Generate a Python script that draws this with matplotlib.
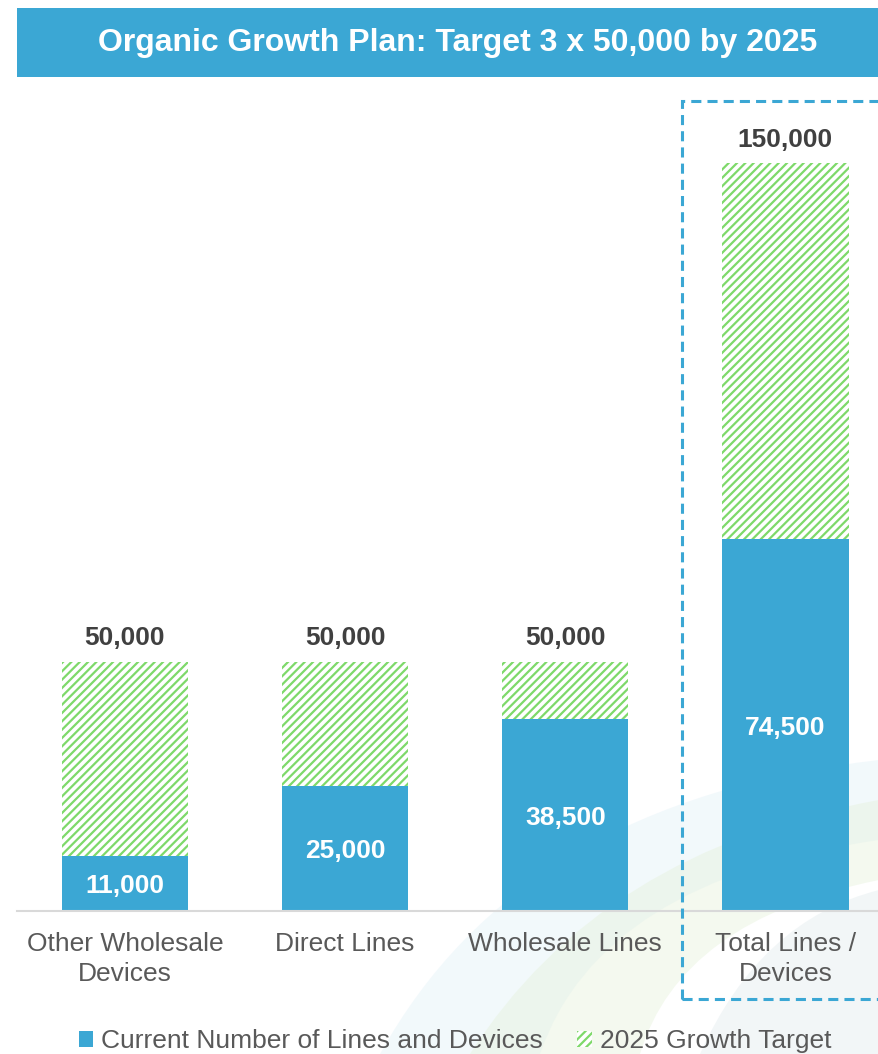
import matplotlib.pyplot as plt
from matplotlib.patches import Patch, Rectangle, PathPatch
from matplotlib.path import Path

categories = ["Other Wholesale\nDevices", "Direct Lines", "Wholesale Lines", "Total Lines /\nDevices"]
current = [11000, 25000, 38500, 74500]
target = [50000, 50000, 50000, 150000]
growth = [t - c for t, c in zip(target, current)]

blue = "#3BA7D4"
green = "#7ED96A"
dark = "#404040"
gray = "#595959"

W, H = 879, 1054
plt.rcParams["font.family"] = ["Liberation Sans", "DejaVu Sans"]
plt.rcParams["hatch.linewidth"] = 1.6

fig = plt.figure(figsize=(W / 100, H / 100), dpi=100)


def fx(px):
    return px / W


def fy(py):
    return 1 - py / H


# faint background swoosh, in its own axes behind everything
bg = fig.add_axes([0, 0, 1, 1], zorder=-1)
bg.set_xlim(0, W)
bg.set_ylim(H, 0)
bg.axis("off")


def swoosh(pts, color, alpha):
    codes = [Path.MOVETO, Path.CURVE3, Path.CURVE3, Path.LINETO,
             Path.CURVE3, Path.CURVE3, Path.CLOSEPOLY]
    verts = list(pts) + [pts[0]]
    bg.add_patch(PathPatch(Path(verts, codes), facecolor=color,
                           edgecolor="none", alpha=alpha))


swoosh([(380, 1054), (520, 800), (879, 760), (879, 840), (600, 880), (540, 1054)], "#DCEEF6", 0.35)
swoosh([(470, 1054), (600, 850), (879, 800), (879, 880), (680, 920), (640, 1054)], "#E4F1D8", 0.4)
swoosh([(700, 1054), (760, 920), (879, 890), (879, 1054), (879, 1054), (700, 1054)], "#E3ECEF", 0.45)

# title banner
bg.add_patch(Rectangle((17, 8), W - 17, 69, facecolor=blue, edgecolor="none"))
fig.text(fx(458), fy(43), "Organic Growth Plan: Target 3 x 50,000 by 2025",
         color="white", fontsize=23, fontweight="bold", ha="center", va="center")

ax = fig.add_axes([fx(17), fy(911), 1 - fx(17), (911 - 101) / H])
ax.patch.set_alpha(0)

x = list(range(len(categories)))
ax.bar(x, current, width=0.573, color=blue, linewidth=0, zorder=2)
ax.bar(x, growth, bottom=current, width=0.573, color="white", edgecolor=green,
       hatch="////", linewidth=0, zorder=2)

for i in x:
    ax.text(i, target[i] + 2300, f"{target[i]:,}", ha="center", va="bottom",
            fontsize=19, fontweight="bold", color=dark)
    ax.text(i, current[i] / 2, f"{current[i]:,}", ha="center", va="center_baseline",
            fontsize=19, fontweight="bold", color="white")

ax.set_xlim(-0.49, 3.425)
ax.set_ylim(0, 150000 * 810 / 748)
ax.set_xticks(x)
ax.set_xticklabels(categories, fontsize=19, color=gray, linespacing=1.3)
ax.tick_params(length=0, pad=15)
ax.set_yticks([])
for s in ["top", "left", "right"]:
    ax.spines[s].set_visible(False)
ax.spines["bottom"].set_color("#D9D9D9")
ax.spines["bottom"].set_linewidth(1.5)

# dashed box around the total
fig.patches.append(Rectangle((fx(682), fy(999)), 1, (999 - 101) / H,
                             transform=fig.transFigure, facecolor="none",
                             edgecolor=blue, linewidth=2.2, linestyle=(0, (3.3, 2)),
                             zorder=3))

handles = [Patch(facecolor=blue, edgecolor="none"),
           Patch(facecolor="white", edgecolor=green, hatch="////", linewidth=0)]
fig.legend(handles, ["Current Number of Lines and Devices", "2025 Growth Target"],
           loc="center", bbox_to_anchor=(fx(455), fy(1041)), ncol=2, frameon=False,
           fontsize=19, labelcolor=gray, handlelength=0.55, handleheight=0.55,
           handletextpad=0.3, columnspacing=1.3)

fig.savefig("out.png", dpi=100)
